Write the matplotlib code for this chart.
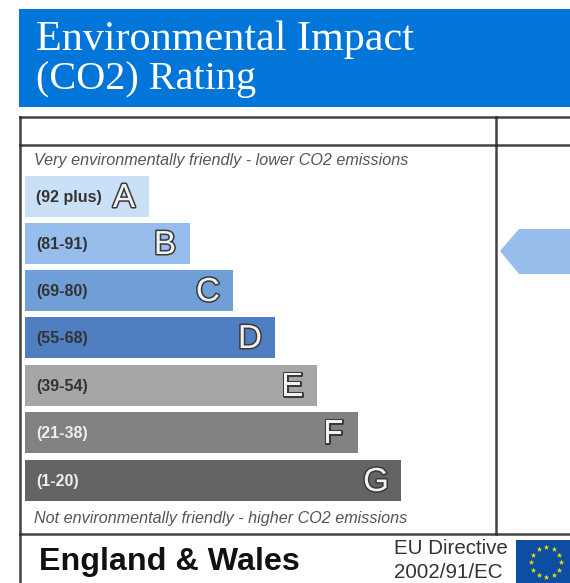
import matplotlib
matplotlib.use("Agg")
import matplotlib.pyplot as plt
import matplotlib.patheffects as pe
import numpy as np
from matplotlib.patches import Polygon, Rectangle

# bands, top to bottom
letters = ["A", "B", "C", "D", "E", "F", "G"]
ranges = ["(92 plus)", "(81-91)", "(69-80)", "(55-68)", "(39-54)", "(21-38)", "(1-20)"]
bar_lengths = [124, 165, 208, 250, 292, 333, 376]
bar_colors = ["#c9e0f6", "#96bdec", "#6f9fd6", "#4f7fc0", "#a6a6a6", "#828282", "#646464"]
range_colors = ["#333333", "#333333", "#333333", "#333333", "#333333", "#eeeeee", "#eeeeee"]

fig = plt.figure(figsize=(5.7, 5.83), dpi=100)
ax = fig.add_axes([0, 0, 1, 1])
ax.set_xlim(0, 570)
ax.set_ylim(583, 0)
ax.axis("off")

# blue title block
ax.add_patch(Rectangle((19, 9), 551, 98, color="#0275d8", lw=0))
ax.text(36, 50, "Environmental Impact", family="Liberation Serif", size=30.3,
        color="white", va="baseline")
ax.text(36, 89.5, "(CO2) Rating", family="Liberation Serif", size=29,
        color="white", va="baseline")

# table lines
line = dict(color="#222222", lw=1.8, alpha=0.85)
ax.plot([20, 570], [117, 117], **line)
ax.plot([20, 570], [145, 145], **line)
ax.plot([20, 570], [534, 534], **line)
ax.plot([20, 20], [117, 583], **line)
ax.plot([496, 496], [117, 534], **line)

ax.text(34, 160, "Very environmentally friendly - lower CO2 emissions",
        family="Liberation Sans", style="italic", size=11.6, color="#555555", va="center")
ax.text(34, 518, "Not environmentally friendly - higher CO2 emissions",
        family="Liberation Sans", style="italic", size=11.6, color="#555555", va="center")

# bands
ys = [196.5, 243.5, 290.5, 337.5, 385, 432.5, 480.5]
ax.barh(ys, bar_lengths, left=25, height=41, color=bar_colors, lw=0)
for y, length, letter, rng, col in zip(ys, bar_lengths, letters, ranges, range_colors):
    ax.text(36, y + 1, rng, family="Liberation Sans", weight="bold", size=11.5,
            color=col, va="center")
    ax.text(25 + length - 25, y + 2, letter, family="Liberation Sans", size=24, color="#f2f2f2",
            ha="center", va="center",
            path_effects=[pe.withStroke(linewidth=2.2, foreground="#3a3a3a")])

# current rating arrow, no number shown
ax.add_patch(Polygon([(500, 251), (519, 229), (570, 229), (570, 274), (519, 274)],
                     closed=True, color="#96bdec", lw=0))

# footer
ax.text(39, 562, "England & Wales", family="Liberation Sans", weight="bold", size=23.2,
        color="#111111", va="center")
ax.text(394, 549, "EU Directive", family="Liberation Sans", size=14.8, color="#333333", va="center")
ax.text(394, 573, "2002/91/EC", family="Liberation Sans", size=14.8, color="#333333", va="center")

# EU flag
ax.add_patch(Rectangle((516, 540), 54, 43, color="#0b4ea2", lw=0))
angles = np.arange(12) * np.pi / 6
ax.scatter(546 + 15 * np.cos(angles), 562 + 15 * np.sin(angles), marker="*", s=18,
           color="#f5d90a", lw=0, zorder=3)

fig.savefig("out.png", dpi=100)
